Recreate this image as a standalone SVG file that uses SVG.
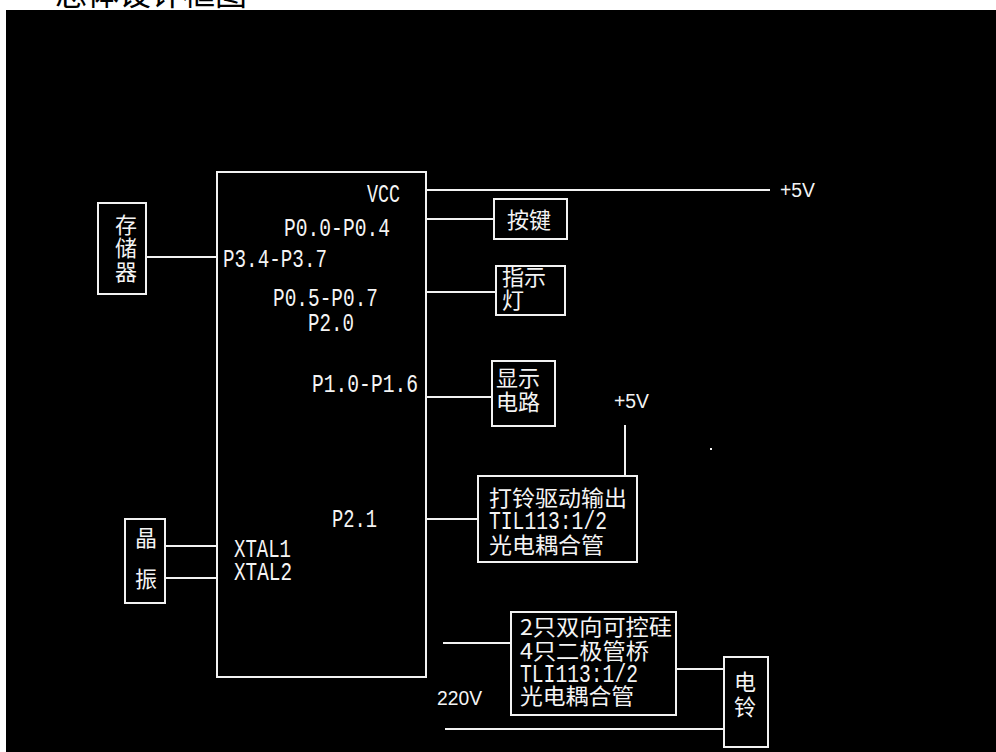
<svg xmlns="http://www.w3.org/2000/svg" width="996" height="752" viewBox="0 0 996 752">
<style>
.ln{stroke:#f2f2f2;stroke-width:2;fill:none}
.bx{stroke:#f2f2f2;stroke-width:2;fill:none}
.cn{font-family:"Noto Sans CJK SC","Noto Sans CJK JP",sans-serif;font-size:22px;fill:#f4f4f4}
.mo{font-family:"Liberation Mono",monospace;font-size:25px;fill:#f4f4f4}
.sa{font-family:"Liberation Sans",Arial,sans-serif;font-size:20px;fill:#f4f4f4}
</style>
<rect x="0" y="0" width="996" height="752" fill="#ffffff"/>
<text x="55" y="5" font-family="Noto Sans CJK SC, sans-serif" font-size="32" fill="#000000">总体设计框图</text>
<rect x="6" y="10" width="990" height="742" fill="#000000"/>

<g id="connectors">
<line class="ln" x1="146" y1="257" x2="217" y2="257"/>
<line class="ln" x1="426" y1="190" x2="770" y2="190"/>
<line class="ln" x1="426" y1="219" x2="494" y2="219"/>
<line class="ln" x1="426" y1="292" x2="496" y2="292"/>
<line class="ln" x1="426" y1="397" x2="492" y2="397"/>
<line class="ln" x1="426" y1="519" x2="478" y2="519"/>
<line class="ln" x1="625" y1="425" x2="625" y2="476"/>
<line class="ln" x1="165" y1="546" x2="217" y2="546"/>
<line class="ln" x1="165" y1="578" x2="217" y2="578"/>
<line class="ln" x1="443" y1="643" x2="511" y2="643"/>
<line class="ln" x1="676" y1="669" x2="724" y2="669"/>
<line class="ln" x1="445" y1="729" x2="724" y2="729"/>
</g>

<g id="mcu">
<rect class="bx" x="217" y="172" width="209" height="505"/>
<text class="mo" x="367" y="202" textLength="33" lengthAdjust="spacingAndGlyphs">VCC</text>
<text class="mo" x="284" y="236" textLength="106" lengthAdjust="spacingAndGlyphs">P0.0-P0.4</text>
<text class="mo" x="223" y="267" textLength="104" lengthAdjust="spacingAndGlyphs">P3.4-P3.7</text>
<text class="mo" x="273" y="306" textLength="105" lengthAdjust="spacingAndGlyphs">P0.5-P0.7</text>
<text class="mo" x="308" y="331" textLength="46" lengthAdjust="spacingAndGlyphs">P2.0</text>
<text class="mo" x="312" y="392" textLength="106" lengthAdjust="spacingAndGlyphs">P1.0-P1.6</text>
<text class="mo" x="332" y="527" textLength="45" lengthAdjust="spacingAndGlyphs">P2.1</text>
<text class="mo" x="234" y="557" textLength="57" lengthAdjust="spacingAndGlyphs">XTAL1</text>
<text class="mo" x="234" y="580" textLength="58" lengthAdjust="spacingAndGlyphs">XTAL2</text>
</g>

<g id="memory">
<rect class="bx" x="98" y="203" width="48" height="91"/>
<text class="cn" x="115" y="233">存</text>
<text class="cn" x="115" y="256">储</text>
<text class="cn" x="115" y="280">器</text>
</g>

<g id="vcc5v">
<text class="sa" x="780" y="197" textLength="35" lengthAdjust="spacingAndGlyphs">+5V</text>
</g>

<g id="keys">
<rect class="bx" x="494" y="199" width="73" height="40"/>
<text class="cn" x="507" y="228">按键</text>
</g>

<g id="lamp">
<rect class="bx" x="496" y="266" width="69" height="49"/>
<text class="cn" x="502" y="285">指示</text>
<text class="cn" x="502" y="308">灯</text>
</g>

<g id="display">
<rect class="bx" x="492" y="361" width="63" height="65"/>
<text class="cn" x="496" y="386">显示</text>
<text class="cn" x="496" y="410">电路</text>
</g>

<g id="vcc5v2">
<text class="sa" x="614" y="408" textLength="35" lengthAdjust="spacingAndGlyphs">+5V</text>
<rect x="710" y="448" width="2" height="2" fill="#f4f4f4"/>
</g>

<g id="driver">
<rect class="bx" x="478" y="476" width="159" height="86"/>
<text class="cn" x="489" y="506" textLength="138" lengthAdjust="spacingAndGlyphs">打铃驱动输出</text>
<text class="mo" x="489" y="529" textLength="118" lengthAdjust="spacingAndGlyphs">TIL113:1/2</text>
<text class="cn" x="489" y="553" textLength="115" lengthAdjust="spacingAndGlyphs">光电耦合管</text>
</g>

<g id="crystal">
<rect class="bx" x="125" y="519" width="40" height="84"/>
<text class="cn" x="135" y="546">晶</text>
<text class="cn" x="135" y="587">振</text>
</g>

<g id="thyristor">
<rect class="bx" x="511" y="612" width="165" height="103"/>
<text class="cn" x="520" y="635" textLength="152" lengthAdjust="spacingAndGlyphs">2只双向可控硅</text>
<text class="cn" x="520" y="659" textLength="129" lengthAdjust="spacingAndGlyphs">4只二极管桥</text>
<text class="mo" x="520" y="682" textLength="118" lengthAdjust="spacingAndGlyphs">TLI113:1/2</text>
<text class="cn" x="520" y="704" textLength="114" lengthAdjust="spacingAndGlyphs">光电耦合管</text>
</g>

<g id="v220">
<text class="sa" x="437" y="705" textLength="45" lengthAdjust="spacingAndGlyphs">220V</text>
</g>

<g id="bell">
<rect class="bx" x="724" y="657" width="44" height="90"/>
<text class="cn" x="734" y="690">电</text>
<text class="cn" x="734" y="715">铃</text>
</g>
</svg>
